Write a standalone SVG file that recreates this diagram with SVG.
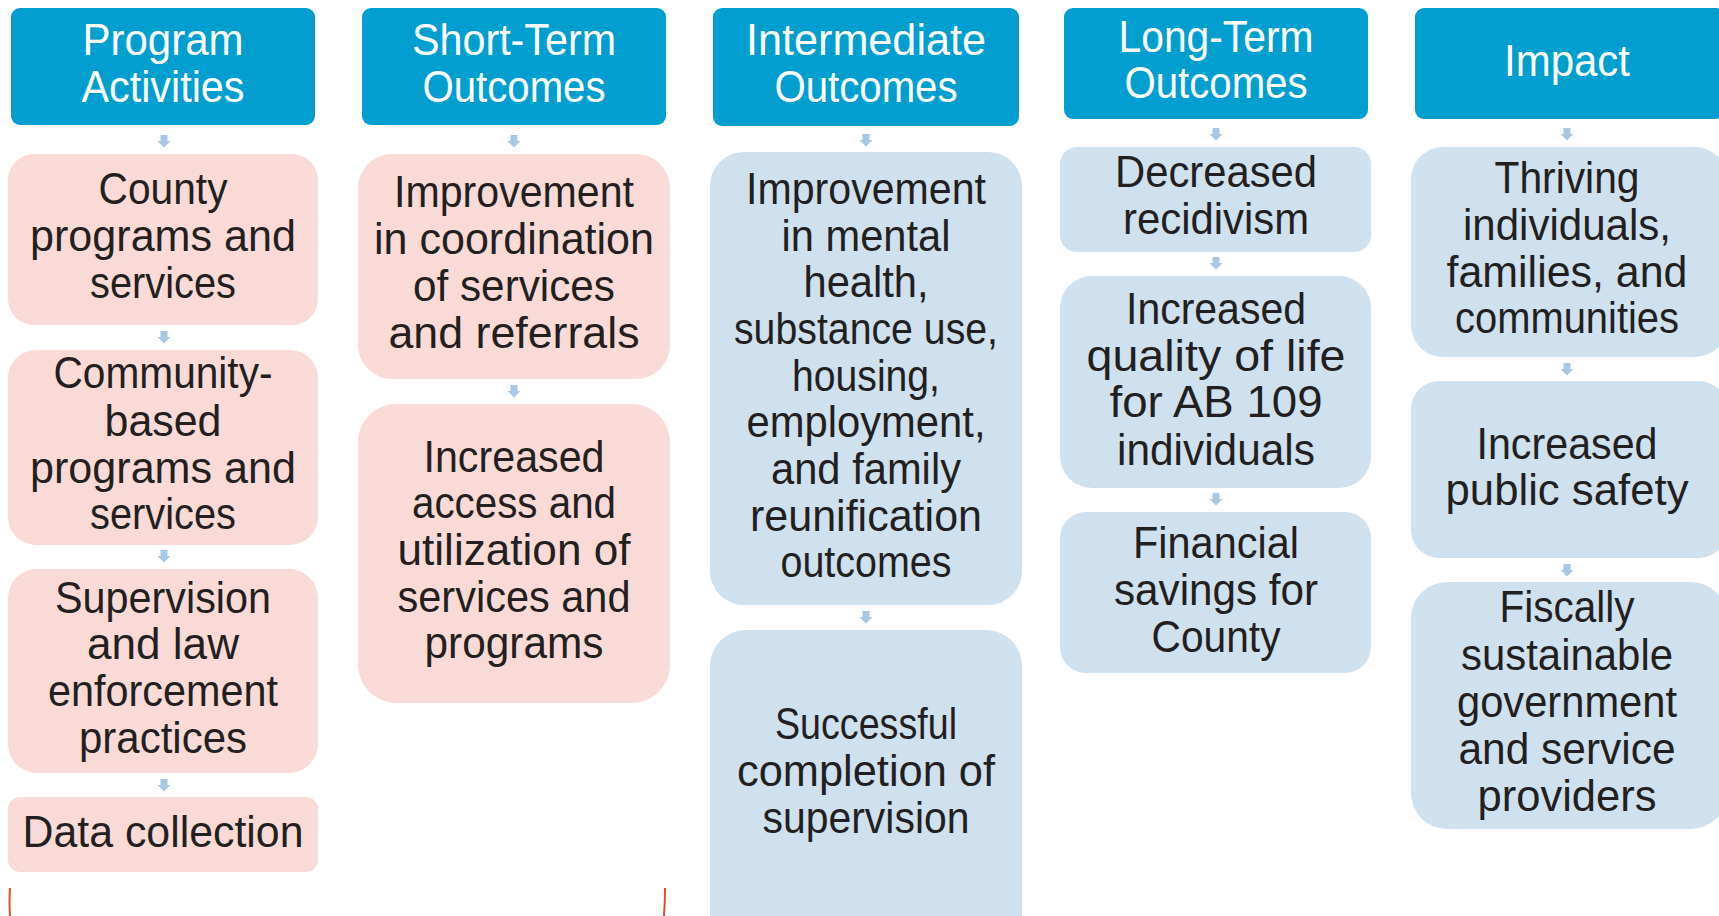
<svg xmlns="http://www.w3.org/2000/svg" xmlns:xlink="http://www.w3.org/1999/xlink" width="1719" height="916" viewBox="0 0 1719 916">
<style>
.hdr{fill:#009FCF}
.pink{fill:#FADAD6}
.blue{fill:#CFE0EF}
.ht{font-family:"Liberation Sans",Arial,sans-serif;font-size:44px;fill:#FFFFFF;text-anchor:middle}
.bt{font-family:"Liberation Sans",Arial,sans-serif;font-size:44px;fill:#231F20;text-anchor:middle}
.arr{fill:#A7C7E4}
.red{fill:none;stroke:#E64A2E;stroke-width:2}
</style>
<defs>
<path id="arrow" d="M-3.5,0 H3.5 V6 H6.5 L0,12.5 L-6.5,6 H-3.5 Z"/>
</defs>
<rect width="1719" height="916" fill="#FFFFFF"/>

<g id="connectors" class="arr">
<use xlink:href="#arrow" x="164" y="135"/>
<use xlink:href="#arrow" x="164" y="331"/>
<use xlink:href="#arrow" x="164" y="550"/>
<use xlink:href="#arrow" x="164" y="779"/>
<use xlink:href="#arrow" x="514" y="135"/>
<use xlink:href="#arrow" x="514" y="385"/>
<use xlink:href="#arrow" x="866" y="134"/>
<use xlink:href="#arrow" x="866" y="611"/>
<use xlink:href="#arrow" x="1216" y="128"/>
<use xlink:href="#arrow" x="1216" y="257"/>
<use xlink:href="#arrow" x="1216" y="493"/>
<use xlink:href="#arrow" x="1567" y="128"/>
<use xlink:href="#arrow" x="1567" y="363"/>
<use xlink:href="#arrow" x="1567" y="564"/>
</g>

<!-- Column 1 -->
<g id="h-program-activities">
<rect class="hdr" x="11" y="8" width="304" height="117" rx="9"/>
<text class="ht" x="163" y="55" textLength="161" lengthAdjust="spacingAndGlyphs">Program</text>
<text class="ht" x="163" y="102" textLength="163" lengthAdjust="spacingAndGlyphs">Activities</text>
</g>
<g id="n-county">
<rect class="pink" x="8" y="154" width="310" height="171" rx="26"/>
<text class="bt" x="163" y="204" textLength="129" lengthAdjust="spacingAndGlyphs">County</text>
<text class="bt" x="163" y="251" textLength="266" lengthAdjust="spacingAndGlyphs">programs and</text>
<text class="bt" x="163" y="298" textLength="146" lengthAdjust="spacingAndGlyphs">services</text>
</g>
<g id="n-community">
<rect class="pink" x="8" y="350" width="310" height="195" rx="28"/>
<text class="bt" x="163" y="388" textLength="219" lengthAdjust="spacingAndGlyphs">Community-</text>
<text class="bt" x="163" y="436" textLength="117" lengthAdjust="spacingAndGlyphs">based</text>
<text class="bt" x="163" y="483" textLength="266" lengthAdjust="spacingAndGlyphs">programs and</text>
<text class="bt" x="163" y="529" textLength="146" lengthAdjust="spacingAndGlyphs">services</text>
</g>
<g id="n-supervision">
<rect class="pink" x="8" y="569" width="310" height="204" rx="29"/>
<text class="bt" x="163" y="613" textLength="216" lengthAdjust="spacingAndGlyphs">Supervision</text>
<text class="bt" x="163" y="659" textLength="152" lengthAdjust="spacingAndGlyphs">and law</text>
<text class="bt" x="163" y="706" textLength="230" lengthAdjust="spacingAndGlyphs">enforcement</text>
<text class="bt" x="163" y="753" textLength="168" lengthAdjust="spacingAndGlyphs">practices</text>
</g>
<g id="n-data">
<rect class="pink" x="8" y="797" width="310" height="75" rx="12"/>
<text class="bt" x="163" y="847" textLength="281" lengthAdjust="spacingAndGlyphs">Data collection</text>
</g>

<!-- Column 2 -->
<g id="h-short-term">
<rect class="hdr" x="362" y="8" width="304" height="117" rx="9"/>
<text class="ht" x="514" y="55" textLength="204" lengthAdjust="spacingAndGlyphs">Short-Term</text>
<text class="ht" x="514" y="102" textLength="183" lengthAdjust="spacingAndGlyphs">Outcomes</text>
</g>
<g id="n-coordination">
<rect class="pink" x="358" y="154" width="312" height="225" rx="34"/>
<text class="bt" x="514" y="207" textLength="240" lengthAdjust="spacingAndGlyphs">Improvement</text>
<text class="bt" x="514" y="254" textLength="280" lengthAdjust="spacingAndGlyphs">in coordination</text>
<text class="bt" x="514" y="301" textLength="202" lengthAdjust="spacingAndGlyphs">of services</text>
<text class="bt" x="514" y="348" textLength="251" lengthAdjust="spacingAndGlyphs">and referrals</text>
</g>
<g id="n-access">
<rect class="pink" x="358" y="404" width="312" height="299" rx="38"/>
<text class="bt" x="514" y="472" textLength="181" lengthAdjust="spacingAndGlyphs">Increased</text>
<text class="bt" x="514" y="518" textLength="204" lengthAdjust="spacingAndGlyphs">access and</text>
<text class="bt" x="514" y="565" textLength="233" lengthAdjust="spacingAndGlyphs">utilization of</text>
<text class="bt" x="514" y="612" textLength="233" lengthAdjust="spacingAndGlyphs">services and</text>
<text class="bt" x="514" y="658" textLength="179" lengthAdjust="spacingAndGlyphs">programs</text>
</g>

<!-- Column 3 -->
<g id="h-intermediate">
<rect class="hdr" x="713" y="8" width="306" height="118" rx="9"/>
<text class="ht" x="866" y="55" textLength="240" lengthAdjust="spacingAndGlyphs">Intermediate</text>
<text class="ht" x="866" y="102" textLength="183" lengthAdjust="spacingAndGlyphs">Outcomes</text>
</g>
<g id="n-mental-health">
<rect class="blue" x="710" y="152" width="312" height="453" rx="34"/>
<text class="bt" x="866" y="204" textLength="240" lengthAdjust="spacingAndGlyphs">Improvement</text>
<text class="bt" x="866" y="251" textLength="169" lengthAdjust="spacingAndGlyphs">in mental</text>
<text class="bt" x="866" y="297" textLength="125" lengthAdjust="spacingAndGlyphs">health,</text>
<text class="bt" x="866" y="344" textLength="264" lengthAdjust="spacingAndGlyphs">substance use,</text>
<text class="bt" x="866" y="391" textLength="148" lengthAdjust="spacingAndGlyphs">housing,</text>
<text class="bt" x="866" y="437" textLength="239" lengthAdjust="spacingAndGlyphs">employment,</text>
<text class="bt" x="866" y="484" textLength="190" lengthAdjust="spacingAndGlyphs">and family</text>
<text class="bt" x="866" y="531" textLength="232" lengthAdjust="spacingAndGlyphs">reunification</text>
<text class="bt" x="866" y="577" textLength="171" lengthAdjust="spacingAndGlyphs">outcomes</text>
</g>
<g id="n-completion">
<rect class="blue" x="710" y="630" width="312" height="330" rx="36"/>
<text class="bt" x="866" y="739" textLength="182" lengthAdjust="spacingAndGlyphs">Successful</text>
<text class="bt" x="866" y="786" textLength="258" lengthAdjust="spacingAndGlyphs">completion of</text>
<text class="bt" x="866" y="833" textLength="207" lengthAdjust="spacingAndGlyphs">supervision</text>
</g>

<!-- Column 4 -->
<g id="h-long-term">
<rect class="hdr" x="1064" y="8" width="304" height="111" rx="9"/>
<text class="ht" x="1216" y="52" textLength="195" lengthAdjust="spacingAndGlyphs">Long-Term</text>
<text class="ht" x="1216" y="98" textLength="183" lengthAdjust="spacingAndGlyphs">Outcomes</text>
</g>
<g id="n-recidivism">
<rect class="blue" x="1060" y="147" width="311" height="105" rx="17"/>
<text class="bt" x="1216" y="187" textLength="202" lengthAdjust="spacingAndGlyphs">Decreased</text>
<text class="bt" x="1216" y="234" textLength="186" lengthAdjust="spacingAndGlyphs">recidivism</text>
</g>
<g id="n-quality">
<rect class="blue" x="1060" y="276" width="311" height="212" rx="32"/>
<text class="bt" x="1216" y="324" textLength="180" lengthAdjust="spacingAndGlyphs">Increased</text>
<text class="bt" x="1216" y="371" textLength="259" lengthAdjust="spacingAndGlyphs">quality of life</text>
<text class="bt" x="1216" y="417" textLength="213" lengthAdjust="spacingAndGlyphs">for AB 109</text>
<text class="bt" x="1216" y="465" textLength="198" lengthAdjust="spacingAndGlyphs">individuals</text>
</g>
<g id="n-savings">
<rect class="blue" x="1060" y="512" width="311" height="161" rx="26"/>
<text class="bt" x="1216" y="558" textLength="166" lengthAdjust="spacingAndGlyphs">Financial</text>
<text class="bt" x="1216" y="605" textLength="204" lengthAdjust="spacingAndGlyphs">savings for</text>
<text class="bt" x="1216" y="652" textLength="129" lengthAdjust="spacingAndGlyphs">County</text>
</g>

<!-- Column 5 -->
<g id="h-impact">
<rect class="hdr" x="1415" y="8" width="310" height="111" rx="9"/>
<text class="ht" x="1567" y="76" textLength="126" lengthAdjust="spacingAndGlyphs">Impact</text>
</g>
<g id="n-thriving">
<rect class="blue" x="1411" y="147" width="316" height="210" rx="32"/>
<text class="bt" x="1567" y="193" textLength="145" lengthAdjust="spacingAndGlyphs">Thriving</text>
<text class="bt" x="1567" y="240" textLength="208" lengthAdjust="spacingAndGlyphs">individuals,</text>
<text class="bt" x="1567" y="287" textLength="241" lengthAdjust="spacingAndGlyphs">families, and</text>
<text class="bt" x="1567" y="333" textLength="224" lengthAdjust="spacingAndGlyphs">communities</text>
</g>
<g id="n-public-safety">
<rect class="blue" x="1411" y="381" width="316" height="177" rx="28"/>
<text class="bt" x="1567" y="459" textLength="181" lengthAdjust="spacingAndGlyphs">Increased</text>
<text class="bt" x="1567" y="505" textLength="243" lengthAdjust="spacingAndGlyphs">public safety</text>
</g>
<g id="n-fiscal">
<rect class="blue" x="1411" y="582" width="316" height="247" rx="36"/>
<text class="bt" x="1567" y="622" textLength="135" lengthAdjust="spacingAndGlyphs">Fiscally</text>
<text class="bt" x="1567" y="670" textLength="212" lengthAdjust="spacingAndGlyphs">sustainable</text>
<text class="bt" x="1567" y="717" textLength="220" lengthAdjust="spacingAndGlyphs">government</text>
<text class="bt" x="1567" y="764" textLength="217" lengthAdjust="spacingAndGlyphs">and service</text>
<text class="bt" x="1567" y="811" textLength="179" lengthAdjust="spacingAndGlyphs">providers</text>
</g>

<g id="bracket-edges">
<path class="red" d="M10,888 Q9,903 10,916"/>
<path class="red" d="M665,888 Q665,903 664,916"/>
</g>
</svg>
